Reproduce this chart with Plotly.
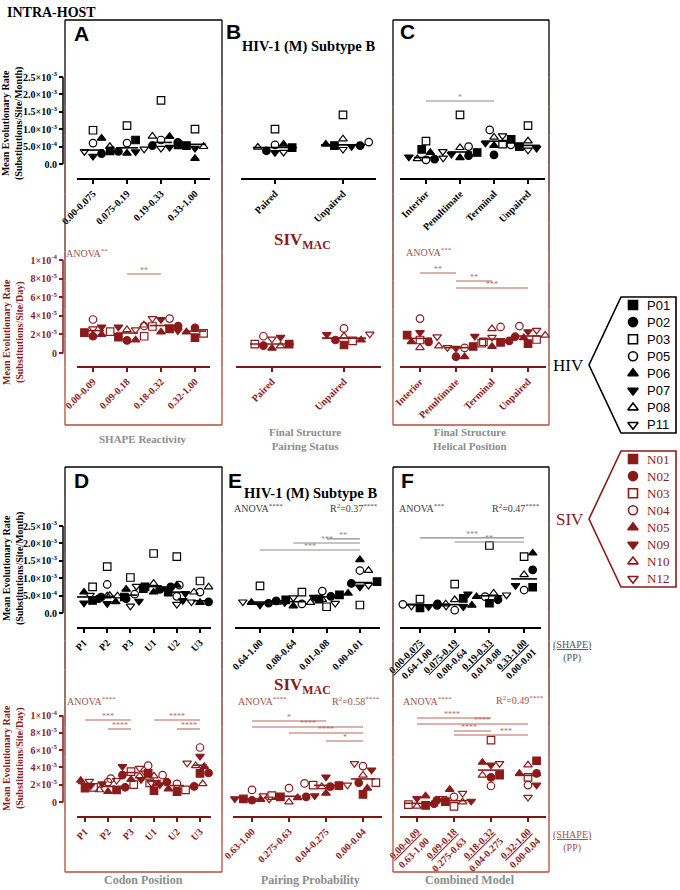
import plotly.graph_objects as go
import numpy as np

# ---------------- DATA ----------------
HIV_IDS = ["P01", "P02", "P03", "P05", "P06", "P07", "P08", "P11"]
SIV_IDS = ["N01", "N02", "N03", "N04", "N05", "N09", "N10", "N12"]

cat_A_hiv = ["0.00-0.075", "0.075-0.19", "0.19-0.33", "0.33-1.00"]
cat_A_siv = ["0.00-0.09", "0.09-0.18", "0.18-0.32", "0.32-1.00"]
cat_B = ["Paired", "Unpaired"]
cat_C = ["Interior", "Penultimate", "Terminal", "Unpaired"]
cat_D = ["P1", "P2", "P3", "U1", "U2", "U3"]
cat_E_hiv = ["0.64-1.00", "0.08-0.64", "0.01-0.08", "0.00-0.01"]
cat_E_siv = ["0.63-1.00", "0.275-0.63", "0.04-0.275", "0.00-0.04"]
cat_F_hiv = ["<u>0.00-0.075</u><br>0.64-1.00", "<u>0.075-0.19</u><br>0.08-0.64",
             "<u>0.19-0.33</u><br>0.01-0.08", "<u>0.33-1.00</u><br>0.00-0.01"]
cat_F_siv = ["<u>0.00-0.09</u><br>0.63-1.00", "<u>0.09-0.18</u><br>0.275-0.63",
             "<u>0.18-0.32</u><br>0.04-0.275", "<u>0.32-1.00</u><br>0.00-0.04"]

# HIV values in units of 1e-3 substitutions/site/month (rows = categories, cols = HIV_IDS)
A_hiv = [[0.38, 0.30, 0.97, 0.60, 0.74, 0.22, 0.42, 0.36],
         [0.69, 0.36, 1.10, 0.60, 0.31, 0.35, 0.50, 0.43],
         [0.55, 0.53, 1.83, 0.69, 0.79, 0.48, 0.80, 0.45],
         [0.53, 0.62, 1.00, 0.62, 0.16, 0.45, 0.50, 0.60]]
B_hiv = [[0.47, 0.38, 1.00, 0.55, 0.57, 0.33, 0.48, 0.34],
         [0.53, 0.53, 1.41, 0.63, 0.57, 0.50, 0.72, 0.42]]
C_hiv = [[0.42, 0.14, 0.66, 0.12, 0.33, 0.20, 0.15, 0.17],
         [0.33, 0.24, 1.41, 0.50, 0.18, 0.28, 0.47, 0.36],
         [0.71, 0.26, 0.57, 0.98, 0.53, 0.60, 0.77, 0.81],
         [0.50, 0.52, 1.10, 0.55, 0.57, 0.45, 0.66, 0.40]]
D_hiv = [[0.36, 0.46, 0.75, 0.46, 0.60, 0.29, 0.50, 0.41],
         [0.46, 0.41, 1.33, 0.82, 0.32, 0.27, 0.49, 0.51],
         [0.70, 0.41, 1.02, 0.54, 0.68, 0.34, 0.49, 0.20],
         [0.75, 0.75, 1.71, 0.80, 0.60, 0.70, 0.85, 0.77],
         [0.60, 0.68, 1.62, 0.48, 0.80, 0.56, 0.60, 0.25],
         [0.34, 0.32, 0.92, 0.60, 0.30, 0.36, 0.75, 0.32]]
E_hiv = [[0.38, 0.28, 0.78, 0.42, 0.30, 0.23, 0.31, 0.32],
         [0.40, 0.35, 0.60, 0.26, 0.20, 0.30, 0.30, 0.44],
         [0.52, 0.48, 0.18, 0.63, 0.57, 0.45, 0.39, 0.28],
         [0.90, 0.85, 0.23, 1.22, 1.53, 0.75, 1.22, 0.80]]
F_hiv = [[0.15, 0.22, 0.40, 0.25, 0.28, 0.18, 0.26, 0.20],
         [0.42, 0.26, 0.83, 0.08, 0.22, 0.18, 0.38, 0.20],
         [0.28, 0.38, 1.94, 0.47, 0.47, 0.55, 0.57, 0.52],
         [0.74, 1.24, 1.62, 0.66, 1.72, 0.79, 1.10, 0.86]]

# SIV values in units of 1e-5 substitutions/site/day (cols = SIV_IDS)
A_siv = [[2.20, 1.80, 2.30, 3.60, 2.00, 2.80, 2.50, 2.60],
         [1.70, 1.35, 1.80, 2.90, 1.40, 2.80, 2.50, 2.50],
         [2.60, 2.90, 2.85, 3.70, 2.25, 3.60, 3.00, 3.70],
         [1.65, 2.70, 2.10, 2.70, 2.25, 2.40, 2.30, 2.80]]
B_siv = [[0.96, 0.80, 0.96, 1.80, 0.50, 1.70, 0.75, 1.50],
         [0.86, 1.40, 1.30, 2.64, 1.40, 2.00, 1.80, 2.04]]
C_siv = [[1.93, 1.20, 1.40, 3.70, 1.20, 2.20, 0.57, 1.75],
         [0.70, -0.40, 1.05, 0.55, -0.40, 0.50, 0.75, 0.60],
         [1.15, 1.30, 1.20, 2.80, 0.70, 1.80, 2.60, 1.70],
         [1.00, 1.75, 1.45, 2.90, 1.65, 2.30, 1.90, 2.45]]
D_siv = [[1.60, 1.80, 1.70, 2.70, 2.50, 2.10, 2.20, 2.40],
         [1.40, 1.70, 2.00, 2.30, 1.20, 1.90, 1.40, 2.50],
         [3.30, 3.10, 3.50, 4.20, 2.60, 4.10, 3.00, 3.90],
         [1.30, 2.30, 2.20, 3.10, 2.10, 2.60, 3.00, 3.35],
         [1.20, 1.80, 1.40, 2.10, 1.50, 2.00, 2.10, 2.20],
         [3.30, 3.35, 4.30, 6.30, 4.10, 5.30, 4.20, 4.50]]
E_siv = [[0.35, 0.20, 0.65, 1.40, 0.30, 0.38, 0.55, 0.35],
         [0.60, 0.60, 0.73, 1.60, 0.50, 0.73, 0.00, 0.73],
         [1.90, 1.77, 1.95, 2.15, 1.00, 2.90, 1.77, 1.96],
         [0.88, 2.23, 2.23, 4.15, 1.58, 3.70, 3.10, 4.46]]
F_siv = [[-0.40, -0.20, -0.30, -0.10, 0.70, 0.40, -0.50, 0.40],
         [0.05, 0.20, -0.50, 0.60, 1.45, 0.10, 0.00, 1.00],
         [3.10, 2.85, 7.15, 1.85, 4.58, 4.27, 3.10, 4.46],
         [4.77, 3.30, 2.85, 1.96, 3.30, 1.96, 4.27, 0.54]]

# significance comparisons: (from category, to category, height, label[, label position])
sig_C_hiv = [(0, 2, 1.81, "*")]
sig_E_hiv = [(2, 3, 2.13, "**"), (1, 3, 2.01, "***"), (0, 3, 1.81, "***")]
sig_F_hiv = [(0, 3, 2.16, "***"), (1, 3, 2.04, "**")]
sig_A_siv = [(1, 2, 8.5, "**")]
sig_C_siv = [(0, 1, 8.6, "**"), (1, 2, 7.74, "**"), (1, 3, 6.99, "***")]
sig_D_siv = [(0, 2, 9.48, "***"), (1, 2, 8.44, "****"), (3, 5, 9.48, "****"), (4, 5, 8.44, "****")]
sig_E_siv = [(0, 2, 9.36, "*"), (0, 3, 8.67, "****"), (1, 3, 7.98, "****"), (2, 3, 7.05, "*")]
sig_F_siv = [(0, 2, 9.71, "****", 0.95), (0, 3, 9.02, "****", 1.75),
             (1, 2, 8.21, "****", 1.4), (1, 3, 7.75, "***", 2.4)]

hiv_ticks = [0, 0.5, 1.0, 1.5, 2.0, 2.5]
hiv_ticktext = ["0.0", "5.0×10<sup>-4</sup>", "1.0×10<sup>-3</sup>", "1.5×10<sup>-3</sup>",
                "2.0×10<sup>-3</sup>", "2.5×10<sup>-3</sup>"]
siv_ticks = [0, 2, 4, 6, 8, 10]
siv_ticktext = ["0", "2×10<sup>-5</sup>", "4×10<sup>-5</sup>", "6×10<sup>-5</sup>",
                "8×10<sup>-5</sup>", "1×10<sup>-4</sup>"]

# ---------------- STYLE / LAYOUT ----------------
W, H = 680, 890
def px(x): return x / W
def py(y): return 1 - y / H

SERIF = "Liberation Serif, Times New Roman, serif"
SANS = "Liberation Sans, Arial, sans-serif"
BLACK = "#000000"
RED = "#8b1a1a"
SIG_HIV = "#8a8a8a"
SIG_SIV = "#b8675f"
TXT_HIV = "#3c3c3c"
TXT_SIV = "#a0524b"
GRAY = "#8c8c8c"
BOX_RED = (185, 74, 60)
SYMBOLS = ["square", "circle", "square-open", "circle-open",
           "triangle-up", "triangle-down", "triangle-up-open", "triangle-down-open"]
MSIZE = 7.5
DIAM = 7.8

rows = {
    "y":  dict(zero=164, axis=178, top=70,  ppu=34.8, tv=hiv_ticks, tt=hiv_ticktext, color=BLACK),
    "y2": dict(zero=353, axis=366, top=246, ppu=9.3,  tv=siv_ticks, tt=siv_ticktext, color=RED),
    "y3": dict(zero=613, axis=627, top=516, ppu=34.8, tv=hiv_ticks, tt=hiv_ticktext, color=BLACK),
    "y4": dict(zero=802, axis=816, top=694, ppu=8.65, tv=siv_ticks, tt=siv_ticktext, color=RED),
}

panels = [
    ("x",   "y",  cat_A_hiv, A_hiv, "hiv", 77, 210, 93, 34, 11, []),
    ("x2",  "y",  cat_B,     B_hiv, "hiv", 241, 376, 275, 68, 22, []),
    ("x3",  "y",  cat_C,     C_hiv, "hiv", 400, 545, 426, 34, 12, sig_C_hiv),
    ("x4",  "y2", cat_A_siv, A_siv, "siv", 77, 210, 93, 34, 11, sig_A_siv),
    ("x5",  "y2", cat_B,     B_siv, "siv", 236, 381, 272, 72, 22, []),
    ("x6",  "y2", cat_C,     C_siv, "siv", 400, 546, 420, 36, 12, sig_C_siv),
    ("x7",  "y3", cat_D,     D_hiv, "hiv", 77, 211, 84, 23.2, 7, []),
    ("x8",  "y3", cat_E_hiv, E_hiv, "hiv", 235, 380, 260, 33.3, 12, sig_E_hiv),
    ("x9",  "y3", cat_F_hiv, F_hiv, "hiv", 400, 541, 420, 34.7, 13, sig_F_hiv),
    ("x10", "y4", cat_D,     D_siv, "siv", 77, 211, 85, 23, 7, sig_D_siv),
    ("x11", "y4", cat_E_siv, E_siv, "siv", 233, 382, 252, 37, 12, sig_E_siv),
    ("x12", "y4", cat_F_siv, F_siv, "siv", 400, 546, 417, 37, 13, sig_F_siv),
]

def axkey(a):
    return ("xaxis" if a[0] == "x" else "yaxis") + a[1:]

def swarm_offsets(vals, ppu, diam=DIAM):
    ys = np.asarray(vals, float) * ppu
    order = np.argsort(ys, kind="stable")
    placed = []
    offs = np.zeros(len(ys))
    step = diam * 0.55
    for i in order:
        k = 0
        while True:
            if k == 0:
                cand = 0.0
            else:
                m = (k + 1) // 2
                cand = m * step * (1 if k % 2 == 1 else -1)
            if all((cand - a) ** 2 + (ys[i] - b) ** 2 >= (diam * 0.95) ** 2 for a, b in placed):
                break
            k += 1
        placed.append((cand, ys[i]))
        offs[i] = cand
    return offs

fig = go.Figure()
layout = dict(template="none", width=W, height=H, autosize=False,
              margin=dict(l=0, r=0, t=0, b=0, pad=0),
              paper_bgcolor="white", plot_bgcolor="rgba(0,0,0,0)", showlegend=False)
shapes = []
anns = []

# y axes
for yk, r in rows.items():
    layout[axkey(yk)] = dict(
        domain=[py(r["axis"]), py(r["top"])],
        range=[(r["zero"] - r["axis"]) / r["ppu"], (r["zero"] - r["top"]) / r["ppu"]],
        anchor="free", position=px(63), showline=False, showgrid=False, zeroline=False,
        automargin=False, fixedrange=True,
        ticks="outside", ticklen=4, tickwidth=1.5, tickcolor=r["color"],
        tickmode="array", tickvals=r["tv"], ticktext=r["tt"],
        tickfont=dict(family=SERIF, size=10, color=r["color"], weight="bold"))
    shapes.append(dict(type="line", xref="paper", yref=yk, x0=px(63), x1=px(63),
                       y0=r["tv"][0], y1=r["tv"][-1], line=dict(color=r["color"], width=1.5)))

# panels
for xk, yk, cats, vals, sp_kind, left, right, c0, spc, hw, sigs in panels:
    r = rows[yk]
    col = BLACK if sp_kind == "hiv" else RED
    axcol = BLACK if sp_kind == "hiv" else "#7a1616"
    ids = HIV_IDS if sp_kind == "hiv" else SIV_IDS
    layout[axkey(xk)] = dict(
        domain=[px(left), px(right)],
        range=[-(c0 - left) / spc, (right - c0) / spc],
        anchor=yk, showline=True, linecolor=axcol, linewidth=2, showgrid=False, zeroline=False,
        automargin=False, fixedrange=True,
        ticks="outside", ticklen=4, tickwidth=1.5, tickcolor=axcol,
        tickmode="array", tickvals=list(range(len(cats))), ticktext=cats, tickangle=-45,
        tickfont=dict(family=SERIF, size=10, color=col, weight="bold"))
    arr = np.asarray(vals, float)
    offs = [list(swarm_offsets(row, r["ppu"]) / spc) for row in arr]
    for j, sid in enumerate(ids):
        xs = [float(ci + offs[ci][j]) for ci in range(len(cats))]
        ys = [float(arr[ci][j]) for ci in range(len(cats))]
        fig.add_trace(go.Scatter(
            x=xs, y=ys, xaxis=xk, yaxis=yk, mode="markers", name=sid, cliponaxis=False,
            marker=dict(symbol=SYMBOLS[j], size=MSIZE, color=col, line=dict(color=col, width=1.2))))
    med = np.median(arr, axis=1)
    mx, my = [], []
    for ci, m in enumerate(med):
        mx += [ci - hw / spc, ci + hw / spc, None]
        my += [float(m), float(m), None]
    fig.add_trace(go.Scatter(x=mx, y=my, xaxis=xk, yaxis=yk, mode="lines",
                             line=dict(color=col, width=1.6), hoverinfo="skip"))
    scol = SIG_HIV if sp_kind == "hiv" else SIG_SIV
    for s in sigs:
        a, b, h, lab = s[:4]
        lx = s[4] if len(s) > 4 else (a + b) / 2
        fig.add_trace(go.Scatter(x=[a, b], y=[h, h], xaxis=xk, yaxis=yk, mode="lines",
                                 line=dict(color=scol, width=1.1), hoverinfo="skip"))
        anns.append(dict(text=lab, x=lx, y=h, xref=xk, yref=yk, showarrow=False,
                         xanchor="center", yanchor="bottom", yshift=-3,
                         font=dict(family=SERIF, size=8, color=scol)))

def text(t, x, y, size, color, family=SERIF, xa="center", ya="middle", angle=0, bold=True):
    if bold:
        t = "<b>" + t.replace("<br>", "</b><br><b>") + "</b>"
    anns.append(dict(text=t, x=px(x), y=py(y), xref="paper", yref="paper", showarrow=False,
                     xanchor=xa, yanchor=ya, textangle=angle,
                     font=dict(family=family, size=size, color=color)))

# boxes with black-to-red gradient
def grad_box(x0, y0, x1, y1, n=14):
    def c(t):
        return "rgb(%d,%d,%d)" % tuple(int(round(v * t)) for v in BOX_RED)
    shapes.append(dict(type="line", xref="paper", yref="paper", x0=px(x0), x1=px(x1),
                       y0=py(y0), y1=py(y0), line=dict(color=c(0), width=1.3)))
    shapes.append(dict(type="line", xref="paper", yref="paper", x0=px(x0), x1=px(x1),
                       y0=py(y1), y1=py(y1), line=dict(color=c(1), width=1.3)))
    for k in range(n):
        ya_ = y0 + (y1 - y0) * k / n
        yb_ = y0 + (y1 - y0) * (k + 1) / n
        cc = c(k / (n - 1))
        for xx in (x0, x1):
            shapes.append(dict(type="line", xref="paper", yref="paper", x0=px(xx), x1=px(xx),
                               y0=py(ya_), y1=py(yb_), line=dict(color=cc, width=1.3)))

grad_box(65, 20, 222, 425)
grad_box(393, 20, 549, 425)
grad_box(65, 467, 222, 872)
grad_box(393, 467, 549, 872)

# titles / letters
text("INTRA-HOST", 5, 12, 14, BLACK, xa="left")
for letter, x, y in [("A", 72, 33), ("B", 224, 32), ("C", 398, 32),
                     ("D", 72, 480), ("E", 226, 480), ("F", 399, 480)]:
    text(letter, x, y, 21, BLACK, family=SANS, xa="left")
text("HIV-1 (M) Subtype B", 308, 47, 14.5, BLACK)
text("HIV-1 (M) Subtype B", 310, 493, 14.5, BLACK)
text("SIV<sub>MAC</sub>", 302, 241, 17, RED)
text("SIV<sub>MAC</sub>", 302, 686, 17, RED)

# y-axis titles
text("Mean Evolutionary Rate<br>(Substitutions/Site/Month)", 13, 124, 10, BLACK, angle=-90)
text("Mean Evolutionary Rate<br>(Substitutions/Site/Day)", 13, 332, 10, RED, angle=-90)
text("Mean Evolutionary Rate<br>(Substitutions/Site/Month)", 13, 569, 10, BLACK, angle=-90)
text("Mean Evolutionary Rate<br>(Substitutions/Site/Day)", 13, 758, 10, RED, angle=-90)

# group labels
text("SHAPE Reactivity", 143, 439, 11, GRAY)
text("Final Structure<br>Pairing Status", 305, 439, 11, GRAY)
text("Final Structure<br>Helical Position", 470, 439, 11, GRAY)
text("Codon Position", 143, 880, 12, GRAY)
text("Pairing Probability", 310, 880, 12, GRAY)
text("Combined Model", 470, 880, 12, GRAY)

# statistics text
stats = [("ANOVA<sup>**</sup>", 64, 253, TXT_SIV, "left"),
         ("ANOVA<sup>***</sup>", 404, 252, TXT_SIV, "left"),
         ("ANOVA<sup>****</sup>", 65, 701, TXT_SIV, "left"),
         ("ANOVA<sup>****</sup>", 232, 508, TXT_HIV, "left"),
         ("ANOVA<sup>****</sup>", 236, 701, TXT_SIV, "left"),
         ("ANOVA<sup>***</sup>", 397, 508, TXT_HIV, "left"),
         ("ANOVA<sup>****</sup>", 401, 701, TXT_SIV, "left"),
         ("R<sup>2</sup>=0.37<sup>****</sup>", 380, 508, TXT_HIV, "right"),
         ("R<sup>2</sup>=0.58<sup>****</sup>", 382, 701, TXT_SIV, "right"),
         ("R<sup>2</sup>=0.47<sup>****</sup>", 542, 508, TXT_HIV, "right"),
         ("R<sup>2</sup>=0.49<sup>****</sup>", 546, 700, TXT_SIV, "right")]
for t, x, y, c, xa in stats:
    text(t, x, y, 10, c, xa=xa, bold=False)

text("<u>(SHAPE)</u><br>(PP)", 572, 651, 10, "#555555", bold=False)
text("<u>(SHAPE)</u><br>(PP)", 572, 841, 10, TXT_SIV, bold=False)

# legends (custom bracket boxes)
layout["xaxis13"] = dict(domain=[0, 1], range=[0, W], visible=False, anchor="y5",
                         fixedrange=True, automargin=False)
layout["yaxis5"] = dict(domain=[0, 1], range=[H, 0], visible=False, anchor="x13",
                        fixedrange=True, automargin=False)
for ids, top, col, fam, label in [(HIV_IDS, 297, BLACK, SANS, "HIV"), (SIV_IDS, 451, RED, SERIF, "SIV")]:
    bot = top + 136
    mid = (top + bot) / 2
    shapes.append(dict(type="path", xref="paper", yref="paper",
                       path="M %f %f L %f %f L %f %f L %f %f L %f %f Z" % (
                           px(621), py(top), px(676), py(top), px(676), py(bot),
                           px(621), py(bot), px(589), py(mid)),
                       line=dict(color=col, width=1.6)))
    text(label, 586, mid, 17, col, xa="right", bold=False)
    lys = [top + 8 + 17.1 * i for i in range(len(ids))]
    for j, sid in enumerate(ids):
        fig.add_trace(go.Scatter(x=[633], y=[lys[j]], xaxis="x13", yaxis="y5", mode="markers",
                                 cliponaxis=False, hoverinfo="skip",
                                 marker=dict(symbol=SYMBOLS[j], size=9, color=col,
                                             line=dict(color=col, width=1.6))))
        text(sid, 645, lys[j], 13, col, family=fam, xa="left", bold=False)

layout["shapes"] = shapes
layout["annotations"] = anns
fig.update_layout(**layout)
fig.write_html("out.html", config={"displayModeBar": False},
               post_script="document.body.style.margin='0px';document.body.style.padding='0px';")
